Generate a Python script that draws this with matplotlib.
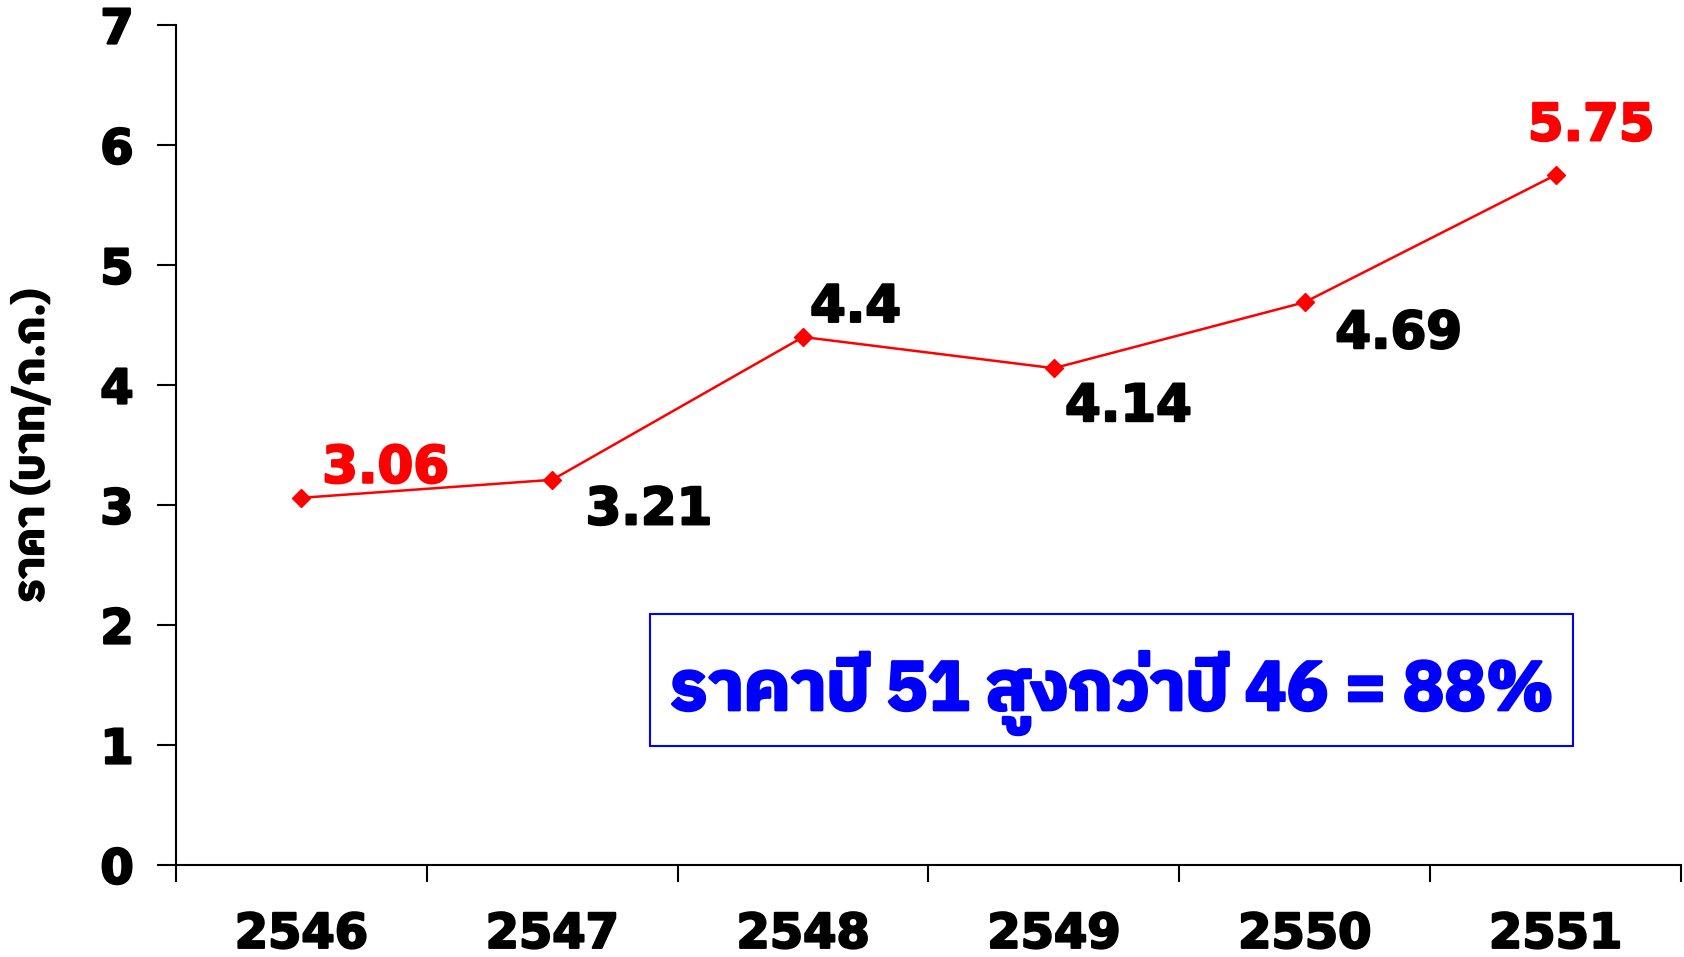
import matplotlib
matplotlib.use("Agg")
import matplotlib.pyplot as plt
from matplotlib import font_manager
from matplotlib.patches import Rectangle
import matplotlib.patheffects as pe

# ---- data ----
years = ["2546", "2547", "2548", "2549", "2550", "2551"]
prices = [3.06, 3.21, 4.40, 4.14, 4.69, 5.75]
label_texts = ["3.06", "3.21", "4.4", "4.14", "4.69", "5.75"]
label_colors = ["#FF0000", "#000000", "#000000", "#000000", "#000000", "#FF0000"]
yticks = [0, 1, 2, 3, 4, 5, 6, 7]
ylabel_text = "ราคา (บาท/ก.ก.)"
box_text = "ราคาปี 51 สูงกว่าปี 46 = 88%"

# label offsets in points (dx, dy) relative to each point
label_offsets = [(15, 21), (24, -22), (5, 21), (8, -28), (22, -23), (-20, 35)]


def find_thai_font():
    try:
        from fontTools.ttLib import TTFont
    except Exception:
        return None
    best = None
    for fe in font_manager.fontManager.ttflist:
        try:
            path = fe.fname
            if path.lower().endswith(".ttc"):
                f = TTFont(path, fontNumber=0, lazy=True)
            else:
                f = TTFont(path, lazy=True)
            cmap = f.getBestCmap() or {}
            if ord("ร") in cmap and ord("ป") in cmap and ord("5") in cmap:
                score = 0
                w = fe.weight if isinstance(fe.weight, int) else 400
                if w >= 600:
                    score += 2
                if "Thai" in fe.name:
                    score += 1
                if best is None or score > best[0]:
                    best = (score, fe.name)
        except Exception:
            continue
    return best[1] if best else None


thai = find_thai_font()
thai_family = [thai, "DejaVu Sans"] if thai else ["DejaVu Sans"]

plt.rcParams["font.family"] = ["DejaVu Sans"]


def heavy(color, w=1.6):
    return [pe.Stroke(linewidth=w, foreground=color), pe.Normal()]


fig = plt.figure(figsize=(16.84, 9.57), dpi=100)
W, H = 1684, 957
left, right, top, bottom = 176, 1681, 25, 865
ax = fig.add_axes([left / W, 1 - bottom / H, (right - left) / W, (bottom - top) / H])

x = list(range(len(years)))
ax.plot(x, prices, color="#FF0000", lw=1.8, marker="D", markersize=9,
        markerfacecolor="#FF0000", markeredgecolor="#FF0000", zorder=3)

for xi, yi, t, c, (dx, dy) in zip(x, prices, label_texts, label_colors, label_offsets):
    ax.annotate(t, (xi, yi), xytext=(dx, dy), textcoords="offset points",
                ha="left", va="center", fontsize=37, fontweight="bold", color=c,
                path_effects=heavy(c))

ax.set_xlim(-0.5, len(years) - 0.5)
ax.set_ylim(0, 7)
ax.set_yticks(yticks)
ax.set_yticklabels([str(v) for v in yticks])
ax.set_xticks([i - 0.5 for i in range(len(years) + 1)])
ax.set_xticklabels([])
ax.set_xticks(x, minor=True)
ax.set_xticklabels(years, minor=True)

ax.tick_params(axis="y", which="major", direction="out", length=13.5, width=1.5,
               pad=17, labelsize=34.5)
ax.tick_params(axis="x", which="major", direction="out", length=12.5, width=1.5)
ax.tick_params(axis="x", which="minor", length=0, pad=33, labelsize=34.5)
for lbl in ax.get_yticklabels() + ax.get_xticklabels(minor=True):
    lbl.set_fontweight("bold")
    lbl.set_path_effects(heavy("black"))

for s in ["top", "right"]:
    ax.spines[s].set_visible(False)
for s in ["left", "bottom"]:
    ax.spines[s].set_linewidth(1.5)
    ax.spines[s].set_color("black")

# y-axis title placed centred at the reference position
ax.text((32 - left) / (right - left), (bottom - 446) / (bottom - top), ylabel_text,
        transform=ax.transAxes, rotation=90, ha="center", va="center",
        fontsize=31, fontweight="bold", family=thai_family,
        path_effects=heavy("black", 1.2))

# annotation box
bx0, by0 = (650 - left) / (right - left), (bottom - 746) / (bottom - top)
bx1, by1 = (1573 - left) / (right - left), (bottom - 614) / (bottom - top)
ax.add_patch(Rectangle((bx0, by0), bx1 - bx0, by1 - by0, transform=ax.transAxes,
                       fill=False, edgecolor="#0000FF", lw=1.5, zorder=4))
ax.text((bx0 + bx1) / 2, (bottom - 710) / (bottom - top), box_text, transform=ax.transAxes,
        ha="center", va="baseline", fontsize=50, fontweight="bold", color="#0000FF",
        family=thai_family, zorder=5, path_effects=heavy("#0000FF", 2.0))

fig.savefig("out.png", dpi=100)
